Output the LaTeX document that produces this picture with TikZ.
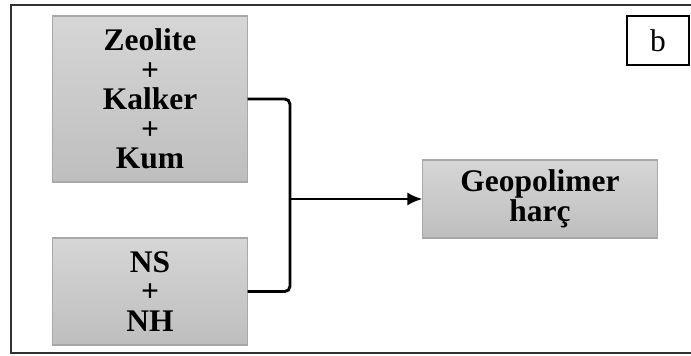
\documentclass[tikz,border=0pt]{standalone}
\usepackage{fontspec}
\setmainfont{Liberation Serif}
\usepackage{tikz}
\usetikzlibrary{arrows.meta}

\definecolor{sivazg}{RGB}{214,214,214}
\definecolor{sivasp}{RGB}{190,190,190}
\definecolor{sivarob}{RGB}{168,168,168}

\begin{document}
\begin{tikzpicture}[x=0.0134cm,y=-0.0134cm,
  skatla/.style={draw=sivarob,top color=sivazg,bottom color=sivasp,align=center,
    font=\fontsize{12}{11.2}\selectfont\bfseries,inner sep=0pt},
  vez/.style={line width=1.1pt,rounded corners=2pt}]
\useasboundingbox (0,0) rectangle (691,356);

\coordinate (z) at (150,99);
\coordinate (n) at (150,291.5);
\coordinate (g) at (540,199);
\coordinate (o) at (658,40.5);

% pomozne tocke
\coordinate (s) at (290,199);
\coordinate (ol) at (11,5);
\coordinate (od) at (11,353);
\coordinate (or) at (693,5);
\coordinate (odr) at (693,353);

\draw[line width=0.9pt,draw=black!80] (or)--(ol)--(od)--(odr);

\node[skatla,minimum width=2.6cm,minimum height=2.224cm] (zeo) at (z) {Zeolite\\+\\Kalker\\+\\Kum};
\node[skatla,minimum width=2.6cm,minimum height=1.434cm] (ns) at (n) {NS\\+\\NH};
\node[skatla,minimum width=3.136cm,minimum height=1.045cm] (geo) at (g) {Geopolimer\\har\c{c}};
\node[draw,line width=0.6pt,minimum width=0.831cm,minimum height=0.657cm,inner sep=0pt,
  font=\fontsize{12}{12}\selectfont] (oz) at (o) {b};

\draw[vez] (zeo.east)-|(s)|-(ns.east);
\draw[line width=1.1pt,-{Latex[length=5.7pt,width=5pt]}] (s)--(geo.west);
\end{tikzpicture}
\end{document}
